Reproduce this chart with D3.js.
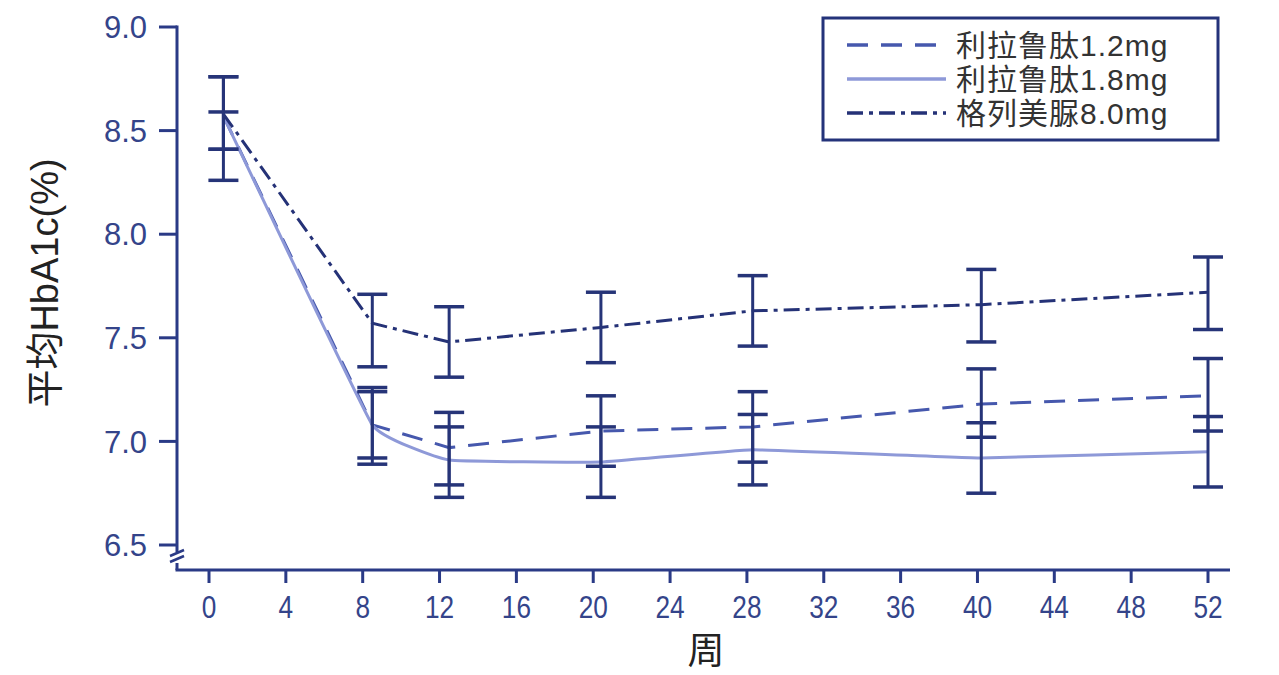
<!DOCTYPE html>
<html>
<head>
<meta charset="utf-8">
<script src="https://cdn.jsdelivr.net/npm/d3@7"></script>
<style>
  body { margin: 0; background: #fff; }
  svg { display: block; }
</style>
</head>
<body>
<svg id="chart" width="1279" height="675"></svg>
<script>
// weeks at which the points were plotted
var weeks = [0.75, 8.5, 12.5, 20.4, 28.3, 40.2, 52];
var xTicks = [0, 4, 8, 12, 16, 20, 24, 28, 32, 36, 40, 44, 48, 52];
var yTicks = [6.5, 7.0, 7.5, 8.0, 8.5, 9.0];

var seriesNames = ["利拉鲁肽1.2mg", "利拉鲁肽1.8mg", "格列美脲8.0mg"];

var lira12Mean = [8.57, 7.08, 6.97, 7.05, 7.07, 7.18, 7.22];
var lira12Low  = [8.26, 6.92, 6.79, 6.88, 6.90, 7.02, 7.05];
var lira12High = [8.59, 7.26, 7.14, 7.22, 7.24, 7.35, 7.40];

var lira18Mean = [8.57, 7.08, 6.91, 6.90, 6.96, 6.92, 6.95];
var lira18Low  = [8.41, 6.89, 6.73, 6.73, 6.79, 6.75, 6.78];
var lira18High = [8.76, 7.24, 7.07, 7.07, 7.13, 7.09, 7.12];

var glimMean = [8.58, 7.57, 7.48, 7.55, 7.63, 7.66, 7.72];
var glimLow  = [8.41, 7.36, 7.31, 7.38, 7.46, 7.48, 7.54];
var glimHigh = [8.76, 7.71, 7.65, 7.72, 7.80, 7.83, 7.89];

var AXIS = "#2a3a86";
var BAR = "#263478";

var series = [
    { name: seriesNames[0], mean: lira12Mean, low: lira12Low, high: lira12High,
      color: "#4658ad", dash: "21,13", curve: d3.curveLinear },
    { name: seriesNames[1], mean: lira18Mean, low: lira18Low, high: lira18High,
      color: "#8e99d8", dash: null, curve: d3.curveCardinal.tension(0.75) },
    { name: seriesNames[2], mean: glimMean, low: glimLow, high: glimHigh,
      color: "#253277", dash: "16,6,4,6", curve: d3.curveLinear }
];

var svg = d3.select("#chart");

var x = d3.scaleLinear().domain([0, 52]).range([209, 1208]);
var y = d3.scaleLinear().domain([6.5, 9.0]).range([545, 27]);

var axisX = 177, axisY = 570;

// y axis, broken just above the x axis
svg.append("line")
    .attr("x1", axisX).attr("x2", axisX)
    .attr("y1", y(9.0) - 1.5).attr("y2", 552)
    .attr("stroke", AXIS).attr("stroke-width", 3);
svg.append("line")
    .attr("x1", axisX).attr("x2", axisX)
    .attr("y1", 563).attr("y2", axisY)
    .attr("stroke", AXIS).attr("stroke-width", 3);
[0, 6].forEach(function (o) {
    svg.append("line")
        .attr("x1", axisX - 7).attr("y1", 556 + o)
        .attr("x2", axisX + 7).attr("y2", 550 + o)
        .attr("stroke", AXIS).attr("stroke-width", 2.5);
});

// x axis
svg.append("line")
    .attr("x1", axisX - 1.5).attr("x2", 1230)
    .attr("y1", axisY).attr("y2", axisY)
    .attr("stroke", AXIS).attr("stroke-width", 3);

svg.selectAll(".ytick").data(yTicks).enter()
    .append("line")
    .attr("x1", axisX - 18).attr("x2", axisX)
    .attr("y1", function (d) { return y(d); })
    .attr("y2", function (d) { return y(d); })
    .attr("stroke", AXIS).attr("stroke-width", 3);

svg.selectAll(".ylab").data(yTicks).enter()
    .append("text")
    .attr("x", 147)
    .attr("y", function (d) { return y(d); })
    .attr("dy", "0.36em")
    .attr("text-anchor", "end")
    .attr("font-family", "Liberation Sans, Arial, sans-serif")
    .attr("font-size", 31)
    .attr("fill", "#34448a")
    .text(function (d) { return d.toFixed(1); });

svg.selectAll(".xtick").data(xTicks).enter()
    .append("line")
    .attr("x1", function (d) { return x(d); })
    .attr("x2", function (d) { return x(d); })
    .attr("y1", axisY).attr("y2", axisY + 13)
    .attr("stroke", AXIS).attr("stroke-width", 3);

// narrow, tall tick numbers as in the original
svg.selectAll(".xlab").data(xTicks).enter()
    .append("text")
    .attr("transform", function (d) { return "translate(" + x(d) + ",618) scale(0.82,1)"; })
    .attr("text-anchor", "middle")
    .attr("font-family", "Liberation Sans, Arial, sans-serif")
    .attr("font-size", 32)
    .attr("fill", "#34448a")
    .text(function (d) { return d; });

// axis titles
svg.append("text")
    .attr("x", 706).attr("y", 664)
    .attr("text-anchor", "middle")
    .attr("font-family", "Noto Sans CJK SC, sans-serif")
    .attr("font-size", 37)
    .attr("fill", "#222")
    .text("周");

svg.append("text")
    .attr("transform", "translate(58,283) rotate(-90)")
    .attr("text-anchor", "middle")
    .attr("font-family", "Liberation Sans, Noto Sans CJK SC, sans-serif")
    .attr("font-size", 38)
    .attr("fill", "#222")
    .text("平均HbA1c(%)");

// series lines
series.forEach(function (s) {
    var line = d3.line()
        .x(function (d, i) { return x(weeks[i]); })
        .y(function (d) { return y(d); })
        .curve(s.curve);
    svg.append("path")
        .datum(s.mean)
        .attr("d", line)
        .attr("fill", "none")
        .attr("stroke", s.color)
        .attr("stroke-width", 3)
        .attr("stroke-dasharray", s.dash);
});

// error bars
series.forEach(function (s) {
    var g = svg.append("g");
    weeks.forEach(function (w, i) {
        var cx = x(w);
        g.append("line")
            .attr("x1", cx).attr("x2", cx)
            .attr("y1", y(s.low[i])).attr("y2", y(s.high[i]))
            .attr("stroke", BAR).attr("stroke-width", 3);
        [s.low[i], s.high[i]].forEach(function (v) {
            g.append("line")
                .attr("x1", cx - 15).attr("x2", cx + 15)
                .attr("y1", y(v)).attr("y2", y(v))
                .attr("stroke", BAR).attr("stroke-width", 3.5);
        });
    });
});

// legend
var legend = svg.append("g");
legend.append("rect")
    .attr("x", 823).attr("y", 18)
    .attr("width", 395).attr("height", 122)
    .attr("fill", "#fff")
    .attr("stroke", "#24337a").attr("stroke-width", 3);

series.forEach(function (s, i) {
    var ly = 45 + i * 34;
    legend.append("line")
        .attr("x1", 847).attr("x2", 946)
        .attr("y1", ly).attr("y2", ly)
        .attr("stroke", s.color)
        .attr("stroke-width", 3.5)
        .attr("stroke-dasharray", s.dash);
    legend.append("text")
        .attr("x", 956).attr("y", ly)
        .attr("dy", "0.36em")
        .attr("font-family", "Liberation Sans, Noto Sans CJK SC, sans-serif")
        .attr("font-size", 30)
        .attr("letter-spacing", 1)
        .attr("fill", "#333")
        .text(s.name);
});
</script>
</body>
</html>
